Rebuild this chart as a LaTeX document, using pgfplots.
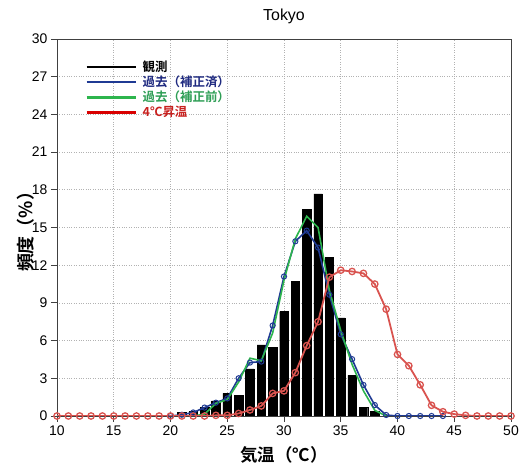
\documentclass[border=0pt]{standalone}
\usepackage{pgfplots}
\pgfplotsset{compat=1.18}
\usepackage{fontspec}
\setmainfont{Liberation Sans}
\newfontfamily\jp{Noto Sans CJK JP}[BoldFont={Noto Sans CJK JP Bold}]
\definecolor{bl}{HTML}{1F3A93}
\definecolor{blt}{HTML}{1F2A80}
\definecolor{gr}{HTML}{2DB54D}
\definecolor{grt}{HTML}{2E9E55}
\definecolor{rd}{HTML}{D9534F}
\definecolor{rdt}{HTML}{C8201E}
\begin{document}
\begin{tikzpicture}
\begin{axis}[
  scale only axis, width=454bp, height=377bp,
  xmin=10, xmax=50, ymin=0, ymax=30,
  xtick={10,15,...,50}, ytick={0,3,...,30},
  tick align=outside, major tick length=6bp,
  xtick pos=bottom, ytick pos=left,
  axis line style={draw=black!75, line width=0.9pt},
  tick style={draw=black!75, line width=0.8pt},
  grid=major, grid style={dotted, draw=black!30, line width=0.7pt},
  /pgf/number format/assume math mode=true,
  ticklabel style={font=\fontsize{14}{16}\selectfont},
  title={Tokyo},
  title style={at={(axis description cs:0.5,1.044)}, anchor=center, font=\fontsize{16}{18}\selectfont},
  xlabel={\jp\bfseries 気温（℃）},
  xlabel style={at={(axis description cs:0.5,-0.103)}, anchor=center, font=\fontsize{17.5}{19}\selectfont},
  ylabel={\jp\bfseries 頻度（\%）},
  ylabel style={at={(axis description cs:-0.068,0.5)}, anchor=center, font=\fontsize{18}{19}\selectfont},
  legend style={draw=none, fill=none, at={(axis description cs:0.062,0.945)}, anchor=north west,
    font=\jp\bfseries\fontsize{12.5}{13}\selectfont, row sep=1bp, inner sep=0pt,
    nodes={inner sep=1bp}},
  legend cell align=left,
]
\addplot[ybar, bar width=0.75, fill=black, draw=black, forget plot] coordinates {
(21,0.29) (22,0.35) (23,0.7) (24,1.21) (25,1.8) (26,1.62) (27,3.74) (28,5.65) (29,5.47)
(30,8.3) (31,10.72) (32,16.45) (33,17.67) (34,12.63) (35,7.8) (36,3.24) (37,0.68) (38,0.38)};
\addplot[bl, line width=1.6pt, mark=o, mark size=2.6pt, mark options={fill=white, line width=1pt}, forget plot] coordinates {
(20,0) (21,0.1) (22,0.28) (23,0.67) (24,1.06) (25,1.4) (26,3.0) (27,4.25) (28,4.33) (29,7.2)
(30,11.1) (31,13.9) (32,14.75) (33,13.4) (34,9.65) (35,6.5) (36,4.52) (37,2.47) (38,0.87)
(39,0.08) (40,0) (41,0) (42,0) (43,0) (44,0)};
\addplot[gr, line width=1.6pt, forget plot] coordinates {
(22,0) (23,0.15) (24,1.0) (25,1.3) (26,2.7) (27,4.6) (28,4.4) (29,6.6) (30,10.8) (31,14.1)
(32,15.9) (33,15.0) (34,10.0) (35,6.8) (36,4.1) (37,2.0) (38,0.45) (39,0)};
\addplot[rd, line width=1.8pt, mark=o, mark size=3.2pt, mark options={fill=white, line width=1.3pt}, forget plot] coordinates {
(10,0) (11,0) (12,0) (13,0) (14,0) (15,0) (16,0) (17,0) (18,0) (19,0) (20,0) (21,0) (22,0) (23,0)
(24,0.05) (25,0.05) (26,0.2) (27,0.48) (28,0.8) (29,1.8) (30,2.0) (31,3.45) (32,5.6) (33,7.5)
(34,11.05) (35,11.6) (36,11.5) (37,11.35) (38,10.5) (39,8.5) (40,4.9) (41,4.0) (42,2.48)
(43,0.85) (44,0.34) (45,0.15) (46,0.05) (47,0) (48,0) (49,0) (50,0)};
\addlegendimage{legend image code/.code={\draw[black, line width=2.4pt] (0,0) -- (49bp,0); \path (55bp,0);}}
\addlegendentry{\textcolor{black}{観測}}
\addlegendimage{legend image code/.code={\draw[bl, line width=2.4pt] (0,0) -- (49bp,0); \path (55bp,0);}}
\addlegendentry{\textcolor{blt}{過去（補正済）}}
\addlegendimage{legend image code/.code={\draw[gr, line width=2.4pt] (0,0) -- (49bp,0); \path (55bp,0);}}
\addlegendentry{\textcolor{grt}{過去（補正前）}}
\addlegendimage{legend image code/.code={\draw[red!85!black, line width=2.4pt] (0,0) -- (49bp,0); \path (55bp,0);}}
\addlegendentry{\textcolor{rdt}{4℃昇温}}
\end{axis}
\path ([xshift=-57bp,yshift=-48bp]current axis.south west) rectangle ([xshift=17bp,yshift=39bp]current axis.north east);
\end{tikzpicture}
\end{document}
